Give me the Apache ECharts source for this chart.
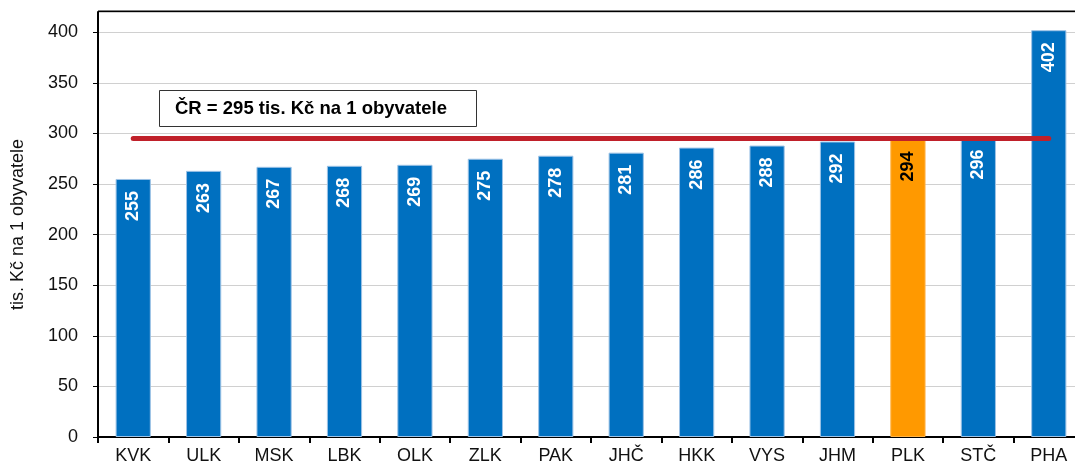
<!DOCTYPE html>
<html>
<head>
<meta charset="utf-8">
<script src="https://cdn.jsdelivr.net/npm/echarts@6/dist/echarts.min.js"></script>
<style>
  html, body { margin: 0; padding: 0; background: #fff; }
  #chart { width: 1075px; height: 468px; }
</style>
</head>
<body>
<div id="chart"></div>
<script>
// regions, sorted by value
const regions = ['KVK', 'ULK', 'MSK', 'LBK', 'OLK', 'ZLK', 'PAK', 'JHČ', 'HKK', 'VYS', 'JHM', 'PLK', 'STČ', 'PHA'];
const values = [255, 263, 267, 268, 269, 275, 278, 281, 286, 288, 292, 294, 296, 402];
const highlight = 'PLK';
const crAverage = 295;
const crText = 'ČR = 295 tis. Kč na 1 obyvatele';
const yName = 'tis. Kč na 1 obyvatele';

const chart = echarts.init(document.getElementById('chart'));

const barData = values.map((v, i) => {
  const hl = regions[i] === highlight;
  return {
    value: v,
    itemStyle: { color: hl ? '#FF9900' : '#0070C0', borderColor: hl ? '#FFB347' : '#9DC3E6' },
    label: { color: hl ? '#000' : '#fff' }
  };
});

chart.setOption({
  animation: false,
  textStyle: { fontFamily: 'Liberation Sans, Arial, sans-serif' },
  // plot runs slightly past the right edge of the picture
  grid: { left: 98, width: 986, top: 12, bottom: 31, outerBoundsMode: 'none' },
  xAxis: {
    type: 'category',
    data: regions,
    axisLine: { lineStyle: { color: '#000', width: 2 } },
    axisTick: { show: true, length: 6, lineStyle: { color: '#000', width: 2 } },
    axisLabel: { color: '#111', fontSize: 18, margin: 10 }
  },
  yAxis: {
    type: 'value',
    min: 0,
    max: 420,
    interval: 50,
    name: yName,
    nameLocation: 'middle',
    nameGap: 71,
    nameTextStyle: { fontSize: 18, color: '#111' },
    axisLine: { show: true, lineStyle: { color: '#000', width: 2 } },
    axisTick: { show: true, length: 5, lineStyle: { color: '#000' } },
    axisLabel: { color: '#111', fontSize: 18, margin: 20, showMaxLabel: false },
    splitLine: { lineStyle: { color: '#d0d0d0', width: 1 } }
  },
  series: [{
    type: 'bar',
    data: barData,
    barWidth: '50%',
    itemStyle: { borderWidth: 1 },
    label: {
      show: true,
      position: 'insideTop',
      rotate: 90,
      align: 'right',
      verticalAlign: 'middle',
      distance: 12,
      fontSize: 18,
      fontWeight: 'bold'
    },
    markLine: {
      symbol: 'none',
      silent: true,
      label: { show: false },
      lineStyle: { color: '#C0202A', width: 5, type: 'solid', cap: 'round' },
      data: [[
        { coord: [0, crAverage] },
        { coord: [regions.length - 1, crAverage] }
      ]]
    }
  }],
  graphic: [
    {
      type: 'line',
      shape: { x1: 98, y1: 11.5, x2: 1075, y2: 11.5 },
      style: { stroke: '#000', lineWidth: 2 }
    },
    {
      type: 'rect',
      shape: { x: 159.5, y: 90.5, width: 317, height: 36 },
      style: { fill: '#fff', stroke: '#333', lineWidth: 1 }
    },
    {
      type: 'text',
      x: 175,
      y: 109,
      style: {
        text: crText,
        fontSize: 18.5,
        fontWeight: 'bold',
        fontFamily: 'Liberation Sans, Arial, sans-serif',
        fill: '#000',
        verticalAlign: 'middle'
      }
    }
  ]
});
</script>
</body>
</html>
